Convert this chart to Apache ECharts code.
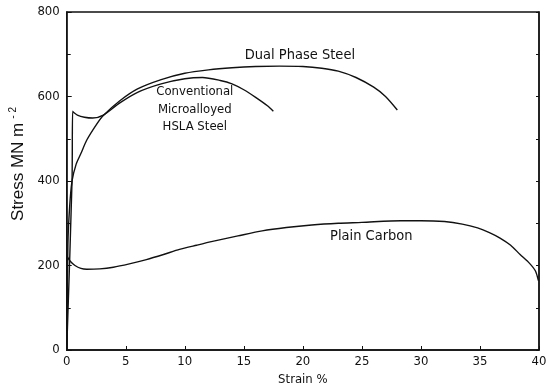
<!DOCTYPE html>
<html>
<head>
<meta charset="utf-8">
<script src="https://cdn.jsdelivr.net/npm/echarts@6/dist/echarts.min.js"></script>
<style>
  html, body { margin: 0; padding: 0; background: #fff; }
  #chart-container { width: 550px; height: 391px; }
</style>
</head>
<body>
<div id="chart-container"></div>
<script>
// strain % / stress MN m^-2
const dualStrain = [0, 0.1, 0.25, 0.45, 0.8, 1.2, 1.7, 2.5, 3.1, 4.5, 6, 8, 10, 12, 14, 16, 18, 20, 21.6, 23, 24.5, 26, 27, 28];
const dualStress = [0, 250, 340, 400, 440, 465, 497, 533, 555, 590, 618, 640, 655, 663, 668, 671, 672, 671, 667, 660, 645, 622, 600, 568];

const hslaStrain = [0, 0.45, 0.5, 0.6, 0.9, 1.5, 2.2, 3.1, 4.5, 6, 8, 10, 11.5, 13, 14, 15, 16, 17, 17.5];
const hslaStress = [0, 400, 565, 562, 556, 551, 549, 556, 585, 610, 630, 642, 645, 638, 630, 616, 598, 578, 565];

const plainStrain = [0, 0.02, 0.3, 0.7, 1.2, 1.7, 2.8, 3.95, 5.3, 6.75, 8.2, 9.55, 11, 12.35, 14.5, 16.55, 18.6, 20.75, 23, 25, 28.3, 30, 32, 33.5, 34.8, 35.8, 36.7, 37.6, 38.4, 39.2, 39.7, 39.95];
const plainStress = [0, 222, 210, 200, 193, 191, 192, 196, 204, 214, 226, 238, 248, 257, 270, 282, 290, 296, 300, 302, 306, 306, 304, 298, 289, 278, 265, 248, 226, 205, 187, 164];

const xTicks = [0, 5, 10, 15, 20, 25, 30, 35, 40];
const yTicks = [0, 200, 400, 600, 800];

// curve labels: text, where they sit in data space, and size
const curveLabels = [
    { text: 'Dual Phase Steel', at: [19.75, 697], size: 14.5 },
    { text: 'Conventional\nMicroalloyed\nHSLA Steel', at: [10.85, 569], size: 13 },
    { text: 'Plain Carbon', at: [25.8, 270], size: 14.5 }
];

const zip = (xs, ys) => xs.map((x, i) => [x, ys[i]]);

const chartDom = document.getElementById('chart-container');
const myChart = echarts.init(chartDom);

const labelFont = "'Liberation Sans Narrow', 'DejaVu Sans Condensed', sans-serif";

const lineSeries = (name, data) => ({
    name: name,
    type: 'line',
    data: data,
    showSymbol: false,
    smooth: 0.25,
    lineStyle: { color: '#111', width: 1.4 },
    animation: false
});

const option = {
    animation: false,
    grid: { left: 63, right: 11, top: 12, bottom: 38, show: true, borderColor: '#111', borderWidth: 1.3 },
    xAxis: [
        {
            type: 'value',
            min: xTicks[0],
            max: xTicks[xTicks.length - 1],
            interval: 5,
            name: 'Strain %',
            nameLocation: 'middle',
            nameGap: 23,
            nameTextStyle: { fontSize: 13, fontFamily: "'DejaVu Sans Condensed', sans-serif", color: '#111' },
            axisLine: { lineStyle: { color: '#111', width: 1.5 } },
            axisTick: { inside: true, length: 4, lineStyle: { color: '#111' } },
            axisLabel: { margin: 5, fontSize: 13, fontFamily: labelFont, color: '#111' },
            splitLine: { show: false }
        }
    ],
    yAxis: [
        {
            type: 'value',
            min: yTicks[0],
            max: yTicks[yTicks.length - 1],
            interval: 200,
            name: '{a|Stress MN m}{s|- 2}',
            nameLocation: 'middle',
            nameGap: 33,
            nameTextStyle: {
                padding: [0, 0, 0, 34],
                rich: {
                    a: { fontSize: 17, fontFamily: "'Liberation Sans', sans-serif", color: '#111' },
                    s: { fontSize: 10, fontFamily: "'Liberation Sans', sans-serif", color: '#111', verticalAlign: 'top', padding: [0, 0, 10, 4] }
                }
            },
            axisLine: { lineStyle: { color: '#111', width: 1.5 } },
            axisTick: { inside: true, length: 5, lineStyle: { color: '#111' } },
            minorTick: { show: true, splitNumber: 2, length: 4, lineStyle: { color: '#111' } },
            axisLabel: { margin: 7, fontSize: 13, fontFamily: labelFont, color: '#111' },
            splitLine: { show: false }
        },
        {
            type: 'value',
            position: 'right',
            min: 0,
            max: 800,
            interval: 100,
            axisLine: { show: true, lineStyle: { color: '#111', width: 1.5 } },
            axisTick: { inside: true, length: 3, lineStyle: { color: '#111' } },
            axisLabel: { show: false },
            splitLine: { show: false }
        }
    ],
    series: [
        lineSeries('Dual Phase Steel', zip(dualStrain, dualStress)),
        lineSeries('Conventional Microalloyed HSLA Steel', zip(hslaStrain, hslaStress)),
        lineSeries('Plain Carbon', zip(plainStrain, plainStress))
    ]
};

myChart.setOption(option);

// place curve labels through the chart's own coordinate conversion
myChart.setOption({
    graphic: curveLabels.map(l => {
        const p = myChart.convertToPixel({ gridIndex: 0 }, l.at);
        return {
            type: 'text',
            x: p[0],
            y: p[1],
            style: {
                text: l.text,
                align: 'center',
                verticalAlign: 'middle',
                fontSize: l.size,
                lineHeight: 17.5,
                fontFamily: "'DejaVu Sans Condensed', sans-serif",
                fill: '#111'
            }
        };
    })
});
</script>
</body>
</html>
